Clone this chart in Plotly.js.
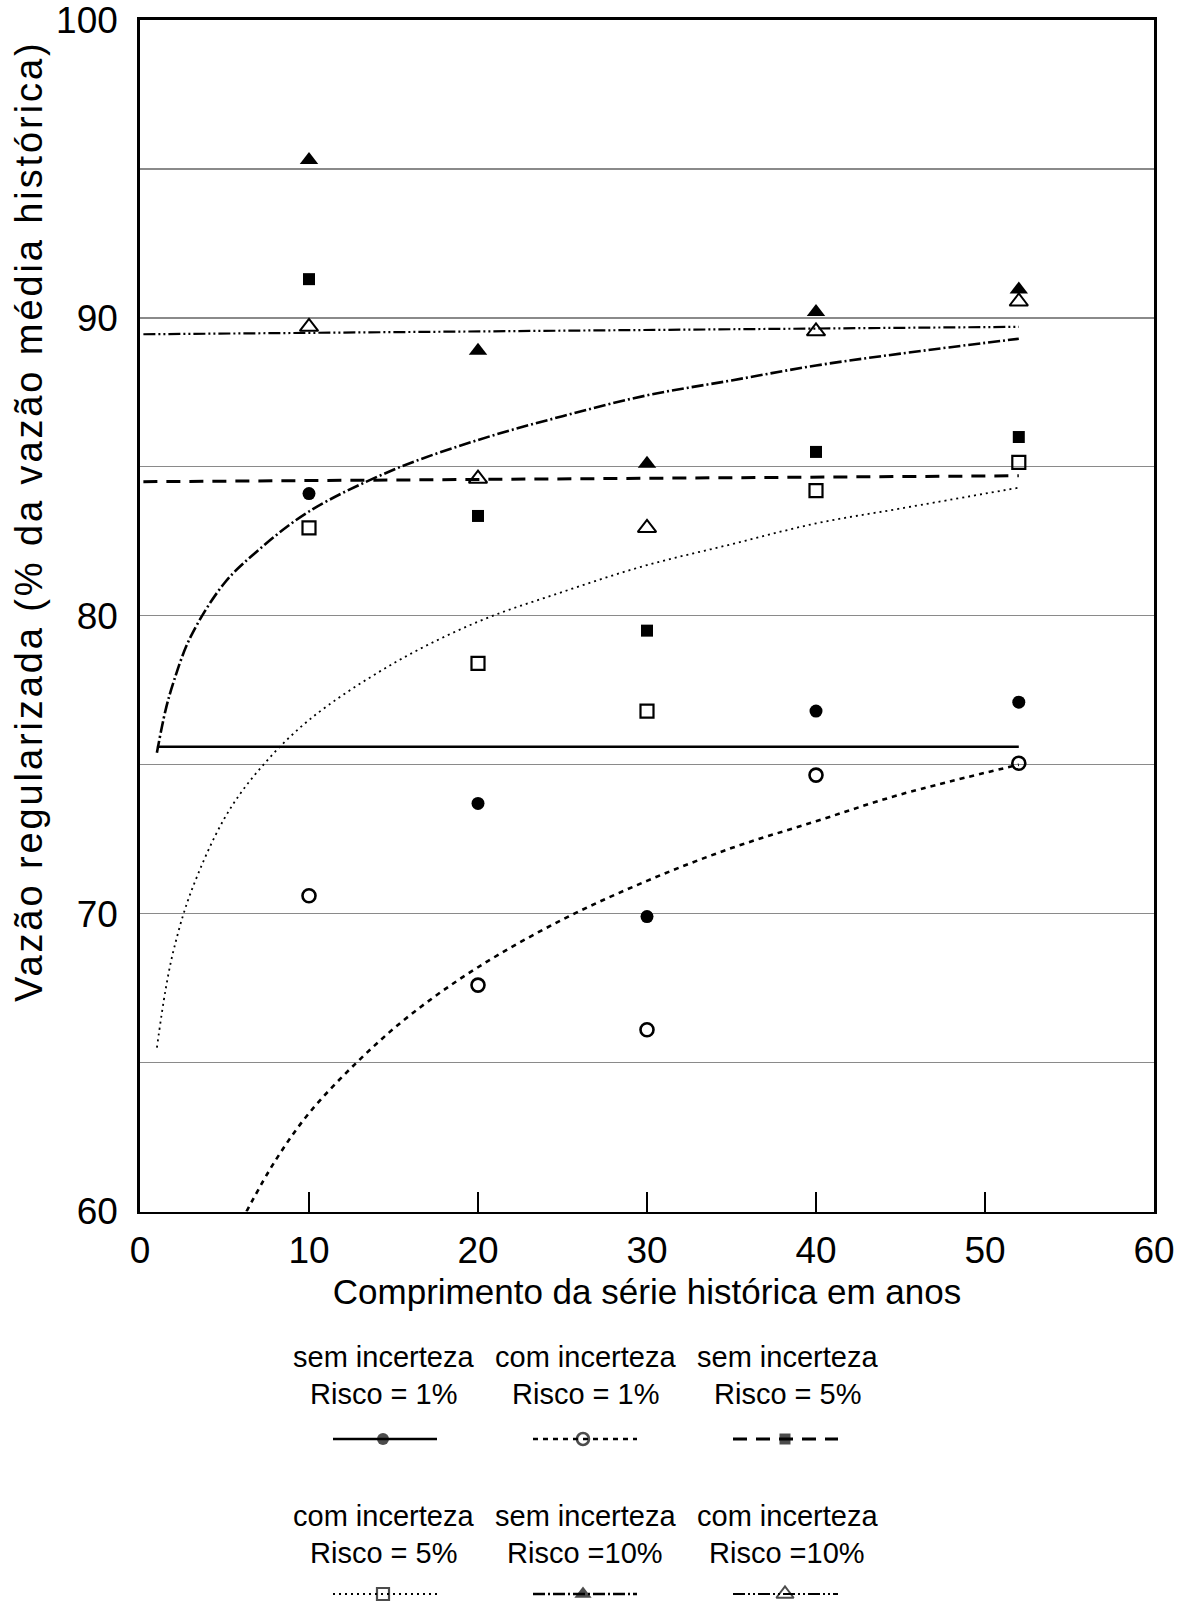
<!DOCTYPE html>
<html>
<head>
<meta charset="utf-8">
<script src="https://cdn.plot.ly/plotly-3.0.1.min.js"></script>
<style>
  html, body { margin: 0; padding: 0; background: #fff; }
  #chart { width: 1191px; height: 1606px; }
</style>
</head>
<body>
<div id="chart"></div>
<script>
// ---------------- DATA ----------------
const years = [10, 20, 30, 40, 52];

const semRisco1  = [84.1, 73.7, 69.9, 76.8, 77.1];
const comRisco1  = [70.6, 67.6, 66.1, 74.65, 75.05];
const semRisco5  = [91.3, 83.35, 79.5, 85.5, 86.0];
const comRisco5  = [82.95, 78.4, 76.8, 84.2, 85.15];
const semRisco10 = [95.3, 88.9, 85.1, 90.2, 90.95];
const comRisco10 = [89.7, 84.6, 82.95, 89.55, 90.55];

// trend lines
const trendSem1X  = [1, 52];
const trendSem1Y  = [75.6, 75.6];
const trendCom1X  = [6.3, 8, 10, 13, 16, 20, 25, 30, 35, 40, 45, 52];
const trendCom1Y  = [60.0, 61.7, 63.3, 65.1, 66.6, 68.2, 69.8, 71.1, 72.2, 73.1, 74.0, 75.0];
const trendSem5X  = [0.2, 52];
const trendSem5Y  = [84.5, 84.7];
const trendCom5X  = [1, 1.5, 2, 3, 5, 7, 10, 15, 20, 25, 30, 35, 40, 45, 52];
const trendCom5Y  = [65.5, 67.4, 68.8, 70.7, 73.2, 74.8, 76.5, 78.4, 79.8, 80.8, 81.7, 82.4, 83.1, 83.6, 84.3];
const trendSem10X = [1, 1.5, 2, 3, 5, 7, 10, 15, 20, 25, 30, 35, 40, 45, 52];
const trendSem10Y = [75.4, 76.8, 77.8, 79.3, 81.1, 82.2, 83.5, 84.9, 85.9, 86.7, 87.4, 87.9, 88.4, 88.8, 89.3];
const trendCom10X = [0.2, 52];
const trendCom10Y = [89.45, 89.7];

const xTickVals = [0, 10, 20, 30, 40, 50, 60];
const yTickVals = [60, 70, 80, 90, 100];

const legendLine1 = ['sem incerteza', 'com incerteza', 'sem incerteza', 'com incerteza', 'sem incerteza', 'com incerteza'];
const legendLine2 = ['Risco = 1%', 'Risco = 1%', 'Risco = 5%', 'Risco = 5%', 'Risco =10%', 'Risco =10%'];

const xTitle = 'Comprimento da série histórica em anos';
const yTitle = 'Vazão regularizada (% da vazão média histórica)';

// ---------------- STYLES ----------------
const FONT = '"Liberation Sans", Arial, Helvetica, sans-serif';
const styles = [
  { dash: 'solid',                         width: 2.6, symbol: 'circle',            size: 13, mlw: 0 },
  { dash: '5px,5px',                       width: 2.6, symbol: 'circle-open',       size: 13, mlw: 2.6 },
  { dash: '14px,9px',                      width: 3.0, symbol: 'square',            size: 12, mlw: 0 },
  { dash: '2px,4px',                       width: 1.8, symbol: 'square-open',       size: 13, mlw: 2.2 },
  { dash: '12px,3px,2px,3px',              width: 2.6, symbol: 'triangle-up',       size: 16, mlw: 0 },
  { dash: '12px,3px,2px,3px,2px,3px',      width: 2.2, symbol: 'triangle-up-open',  size: 16, mlw: 2.0 }
];
const seriesY = [semRisco1, comRisco1, semRisco5, comRisco5, semRisco10, comRisco10];
const trendX = [trendSem1X, trendCom1X, trendSem5X, trendCom5X, trendSem10X, trendCom10X];
const trendY = [trendSem1Y, trendCom1Y, trendSem5Y, trendCom5Y, trendSem10Y, trendCom10Y];

// legend geometry (pixel coordinates in the helper axes)
const legendCols = [
  { text: 383, x0: 333, x1: 437, xm: 383 },
  { text: 585, x0: 533, x1: 637, xm: 583 },
  { text: 787, x0: 733, x1: 838, xm: 785 }
];
const legendRows = [
  { l1: 1357, l2: 1394, s: 1439 },
  { l1: 1516, l2: 1553, s: 1594 }
];

const traces = [];
for (let i = 0; i < 6; i++) {
  const st = styles[i];
  traces.push({
    x: trendX[i], y: trendY[i], mode: 'lines', type: 'scatter',
    line: { color: '#000', width: st.width, dash: st.dash, shape: trendX[i].length > 2 ? 'spline' : 'linear' },
    hoverinfo: 'skip', showlegend: false, xaxis: 'x', yaxis: 'y'
  });
  traces.push({
    x: years, y: seriesY[i], mode: 'markers', type: 'scatter',
    marker: { color: '#000', symbol: st.symbol, size: st.size, line: { color: '#000', width: st.mlw } },
    showlegend: false, cliponaxis: false, xaxis: 'x', yaxis: 'y'
  });
}

// custom legend samples
const annotations = [];
for (let i = 0; i < 6; i++) {
  const st = styles[i];
  const col = legendCols[i % 3];
  const row = legendRows[Math.floor(i / 3)];
  traces.push({
    x: [col.x0, col.xm, col.x1], y: [row.s, row.s, row.s],
    mode: 'lines+markers', type: 'scatter',
    line: { color: '#000', width: st.width, dash: st.dash },
    marker: { color: '#000', symbol: st.symbol, size: [0, st.size - 1, 0], line: { color: '#000', width: st.mlw } },
    showlegend: false, cliponaxis: false, hoverinfo: 'skip', xaxis: 'x2', yaxis: 'y2'
  });
  annotations.push({ xref: 'x2', yref: 'y2', x: col.text, y: row.l1, text: legendLine1[i], showarrow: false,
    xanchor: 'center', yanchor: 'middle', font: { family: FONT, size: 29, color: '#000' } });
  annotations.push({ xref: 'x2', yref: 'y2', x: col.text, y: row.l2, text: legendLine2[i], showarrow: false,
    xanchor: 'center', yanchor: 'middle', font: { family: FONT, size: 29, color: '#000' } });
}

// y axis title as rotated annotation
annotations.push({
  xref: 'paper', yref: 'paper', x: (29 - 140) / 1014, y: (1602 - 522) / 1582,
  text: '<span style="letter-spacing:2.9px">' + yTitle + '</span>', textangle: -90, showarrow: false,
  xanchor: 'center', yanchor: 'middle',
  font: { family: FONT, size: 38, color: '#000' }
});

const layout = {
  width: 1191, height: 1606,
  margin: { l: 140, r: 37, t: 20, b: 4 },
  paper_bgcolor: '#fff', plot_bgcolor: '#fff',
  showlegend: false,
  font: { family: FONT, color: '#000' },
  xaxis: {
    domain: [0, 1], range: [0, 60], tickvals: xTickVals, ticktext: xTickVals.map(String),
    ticks: 'inside', ticklen: 20, tickwidth: 1.6, tickcolor: '#000',
    showline: true, linecolor: '#000', linewidth: 2.8, mirror: true,
    showgrid: false, zeroline: false, ticklabelstandoff: 4, ticklabeloverflow: 'allow',
    tickfont: { family: FONT, size: 37, color: '#000' },
    title: { text: xTitle, font: { family: FONT, size: 35, color: '#000' }, standoff: 10 },
    anchor: 'y'
  },
  yaxis: {
    domain: [(1602 - 1211.5) / 1582, 1], range: [60, 100], tickvals: yTickVals, ticktext: yTickVals.map(String),
    ticks: '', showline: true, linecolor: '#000', linewidth: 2.8, mirror: true,
    showgrid: true, gridcolor: '#8a8a8a', gridwidth: 1.3, zeroline: false,
    minor: { dtick: 5, tick0: 0, showgrid: true, gridcolor: '#8a8a8a', gridwidth: 1.3, ticks: '' },
    ticklabelstandoff: 12, ticklabeloverflow: 'allow',
    tickfont: { family: FONT, size: 37, color: '#000' },
    anchor: 'x'
  },
  xaxis2: { domain: [0, 1], range: [140, 1154], visible: false, fixedrange: true, anchor: 'y2' },
  yaxis2: { domain: [0, 0.2], range: [1602, 1285.6], visible: false, fixedrange: true, anchor: 'x2' },
  annotations: annotations
};

Plotly.newPlot('chart', traces, layout, { displayModeBar: false, staticPlot: true });
</script>
</body>
</html>
